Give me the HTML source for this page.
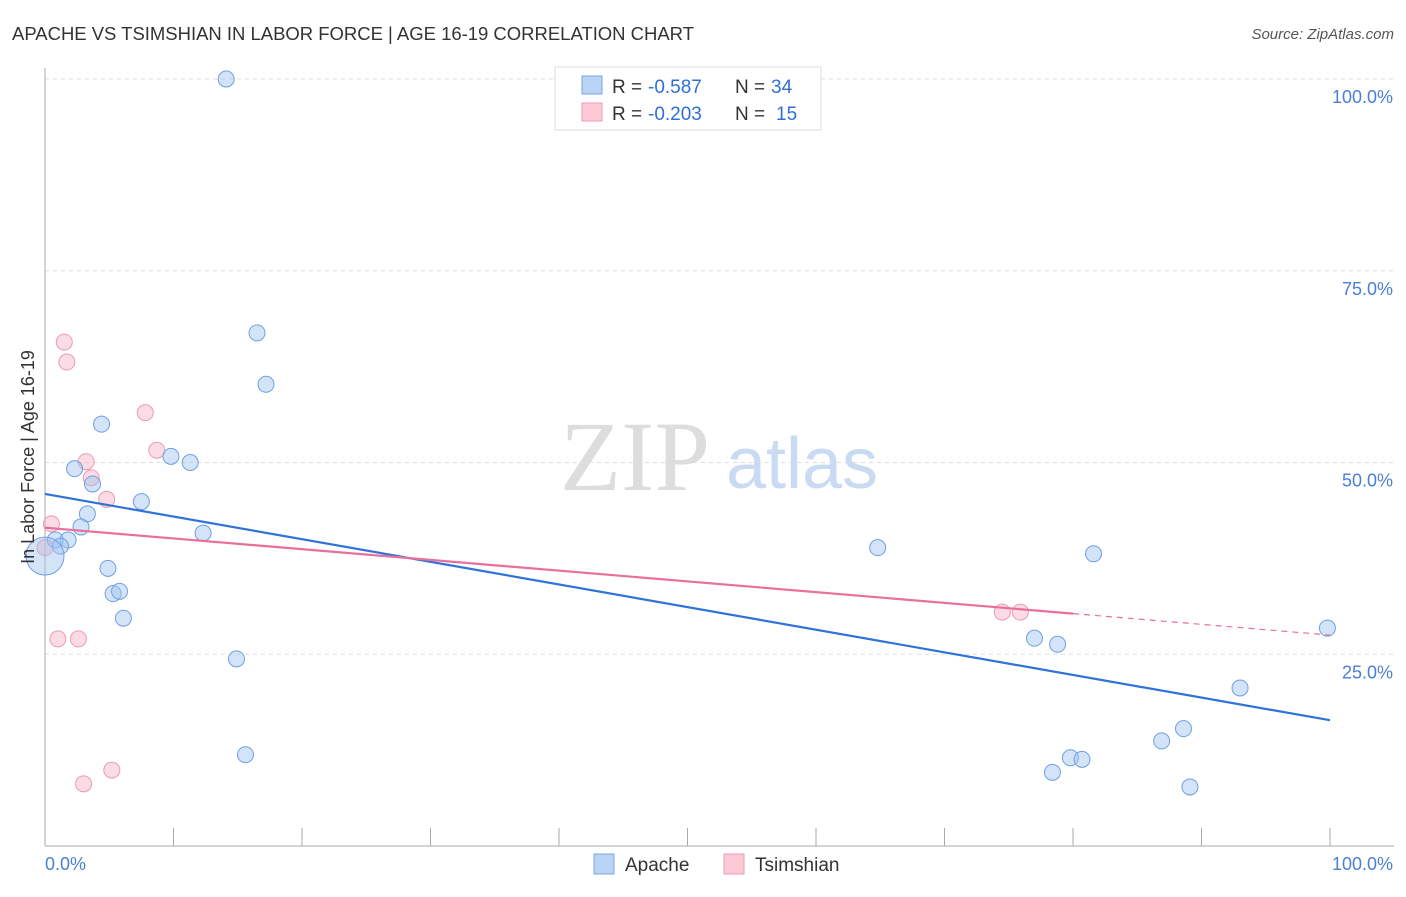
<!DOCTYPE html>
<html><head><meta charset="utf-8"><style>
body{margin:0;background:#fff;font-family:"Liberation Sans",sans-serif;}
svg text{font-family:"Liberation Sans",sans-serif;}
svg text.serif{font-family:"Liberation Serif",serif;}
</style></head><body>
<svg id="chart" width="1406" height="892" xmlns="http://www.w3.org/2000/svg">
<text x="12" y="40" font-size="18.5" fill="#333" textLength="682">APACHE VS TSIMSHIAN IN LABOR FORCE | AGE 16-19 CORRELATION CHART</text>
<text x="1394" y="39" font-size="15" fill="#555" font-style="italic" text-anchor="end">Source: ZipAtlas.com</text>
<text class="serif" x="635" y="490" font-size="100" fill="#ddd" text-anchor="middle">ZIP</text>
<text x="802" y="488" font-size="72" fill="#c9dbf3" text-anchor="middle">atlas</text>
<g id="grid"></g>
<g id="axes"></g>
<g id="marks"></g>
<text transform="translate(34,457) rotate(-90)" font-size="18" fill="#333" text-anchor="middle">In Labor Force | Age 16-19</text>
<g>
<rect x="555" y="67" width="266" height="63" fill="#fff" stroke="#ddd"/>
<rect x="582" y="76" width="20" height="18" fill="#b9d3f5" stroke="#7aa5e3"/>
<rect x="582" y="103" width="20" height="18" fill="#fbcad6" stroke="#ec9ab2"/>
<text x="612" y="93" font-size="19" fill="#333">R =</text>
<text x="648" y="93" font-size="19" fill="#2f6fd6">-0.587</text>
<text x="735" y="93" font-size="19" fill="#333">N =</text>
<text x="771" y="93" font-size="19" fill="#2f6fd6">34</text>
<text x="612" y="120" font-size="19" fill="#333">R =</text>
<text x="648" y="120" font-size="19" fill="#2f6fd6">-0.203</text>
<text x="735" y="120" font-size="19" fill="#333">N =</text>
<text x="776" y="120" font-size="19" fill="#2f6fd6">15</text>
</g>
<g>
<rect x="594" y="854" width="20" height="20" fill="#b9d3f5" stroke="#7aa5e3"/>
<text x="625" y="871" font-size="19" fill="#333">Apache</text>
<rect x="724" y="854" width="20" height="20" fill="#fbcad6" stroke="#ec9ab2"/>
<text x="755" y="871" font-size="19" fill="#333">Tsimshian</text>
</g>
</svg>
<script>
const apacheX=[14.1,16.5,17.2,4.4,9.8,11.3,2.3,3.7,7.5,3.3,2.8,12.3,0.8,1.8,1.2,0,4.9,5.3,5.8,6.1,14.9,15.6,64.8,81.6,77.0,78.8,99.8,93.0,88.6,86.9,79.8,80.7,78.4,89.1];
const apacheY=[100,66.9,60.2,55.0,50.8,50.0,49.2,47.2,44.9,43.3,41.6,40.8,39.9,39.9,39.1,37.8,36.2,32.9,33.2,29.7,24.4,11.9,38.9,38.1,27.1,26.3,28.4,20.6,15.3,13.7,11.5,11.3,9.6,7.7];
const tsimX=[1.5,1.7,7.8,8.7,3.2,3.6,4.8,0.5,0,1.0,2.6,5.2,3.0,74.5,75.9];
const tsimY=[65.7,63.1,56.5,51.6,50.1,48.0,45.2,42.0,38.9,27.0,27.0,9.9,8.1,30.5,30.5];
const yTicks=[100,75,50,25];
const yTickLabels=["100.0%","75.0%","50.0%","25.0%"];
const apacheTrend=[45.9,16.4];
const tsimTrend=[41.5,27.5];
const tsimSolidEnd=80;
const NS="http://www.w3.org/2000/svg";
const X0=45,X1=1330,Y0=846,Y100=79;
function sx(v){return X0+(X1-X0)*v/100;}
function sy(v){return Y0-(Y0-Y100)*v/100;}
function mk(tag,attrs,parent){const e=document.createElementNS(NS,tag);for(const k in attrs)e.setAttribute(k,attrs[k]);parent.appendChild(e);return e;}
const grid=document.getElementById('grid'),axes=document.getElementById('axes'),marks=document.getElementById('marks');
yTicks.forEach((t,i)=>{
 const l=mk('line',{x1:X0,x2:1394,y1:sy(t),y2:sy(t),stroke:'#ddd','stroke-dasharray':'4,4'},grid);
 
 
 const tx=mk('text',{x:1393,y:sy(t)+24,'font-size':18,fill:'#4a7fd6','text-anchor':'end'},axes);
 tx.textContent=yTickLabels[i];
 
 
});
const ax=mk('line',{x1:X0,x2:X0,y1:68,y2:Y0,stroke:'#aaa'},axes);


const bx=mk('line',{x1:X0,x2:1394,y1:Y0,y2:Y0,stroke:'#aaa'},axes);


for(let i=0;i<=10;i++){const t=mk('line',{x1:sx(i*10),x2:sx(i*10),y1:Y0,y2:828,stroke:'#aaa'},axes);
 
 }
[[0,"0.0%","start",45],[100,"100.0%","end",1393]].forEach(a=>{const t=mk('text',{x:a[3],y:870,'font-size':18,fill:'#4a7fd6','text-anchor':a[2]},axes);t.textContent=a[1];
 
 });
tsimX.forEach((x,i)=>{const c=mk('circle',{cx:sx(x),cy:sy(tsimY[i]),r:8,fill:'rgba(247,176,196,0.45)',stroke:'#ec9ab2','stroke-width':1},marks);
 
 });
apacheX.forEach((x,i)=>{const c=mk('circle',{cx:sx(x),cy:sy(apacheY[i]),r:(x===0?19:8),fill:'rgba(160,195,240,0.45)',stroke:'#6e9fe2','stroke-width':1},marks);
 
 });
const bl=mk('line',{x1:sx(0),y1:sy(apacheTrend[0]),x2:sx(100),y2:sy(apacheTrend[1]),stroke:'#2f72d8','stroke-width':2.2},marks);


const pm=tsimTrend[0]+(tsimTrend[1]-tsimTrend[0])*tsimSolidEnd/100;
const pl=mk('line',{x1:sx(0),y1:sy(tsimTrend[0]),x2:sx(tsimSolidEnd),y2:sy(pm),stroke:'#e8709a','stroke-width':2.2},marks);


const pd=mk('line',{x1:sx(tsimSolidEnd),y1:sy(pm),x2:sx(100),y2:sy(tsimTrend[1]),stroke:'#e8709a','stroke-width':1.2,'stroke-dasharray':'6,5'},marks);


</script>
</body></html>
